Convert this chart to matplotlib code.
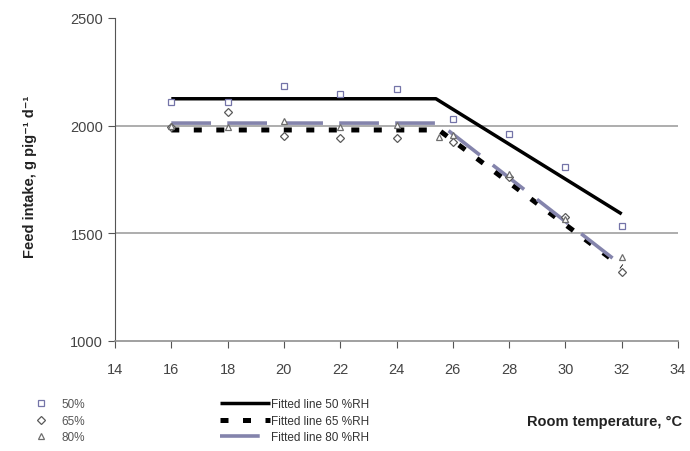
import matplotlib
matplotlib.use('Agg')
import matplotlib.pyplot as plt

plt.rcParams['font.family'] = ['Liberation Sans', 'DejaVu Sans']

# measured feed intake, g pig-1 d-1
temp = [16, 18, 20, 22, 24, 26, 28, 30, 32]
rh50 = [2110, 2110, 2185, 2145, 2170, 2030, 1960, 1808, 1535]
rh65 = [1995, 2063, 1952, 1945, 1945, 1925, 1760, 1575, 1322]
temp80 = [16, 18, 20, 22, 24, 25.5, 26, 28, 30, 32]
rh80 = [2000, 1995, 2020, 1995, 2005, 1948, 1958, 1775, 1565, 1390]

# broken-line fits: start, breakpoint, end
fit_x = [16, 25.4, 32]
fit50 = [2125, 2125, 1590]
fit_x65 = [16, 25.5, 32]
fit65 = [1980, 1980, 1345]
fit80 = [2012, 2012, 1352]

c_sq = '#7474a8'
c_di = '#5a5a5a'
c_tr = '#6e6e6e'
c_80 = '#8484ac'

fig = plt.figure(figsize=(6.9, 4.52), dpi=100)
ax = fig.add_axes([115/690, 1 - 342/452, 563/690, 323/452])

for y in [1500, 2000]:
    ax.axhline(y, color='#a0a0a0', lw=1.2, zorder=0)

l50, = ax.plot(fit_x, fit50, color='black', lw=2.5, solid_capstyle='butt', zorder=3)
l65, = ax.plot(fit_x65, fit65, color='black', lw=3.6, dashes=(1.6, 2.9),
               dash_capstyle='butt', zorder=3)
l80, = ax.plot(fit_x65, fit80, color=c_80, lw=2.6, dashes=(11, 4.5),
               dash_capstyle='butt', zorder=4)

s50, = ax.plot(temp, rh50, ls='none', marker='s', ms=4.2, mfc='white', mec=c_sq, mew=0.9, zorder=5)
s65, = ax.plot(temp, rh65, ls='none', marker='D', ms=4, mfc='white', mec=c_di, mew=0.9, zorder=5)
s80, = ax.plot(temp80, rh80, ls='none', marker='^', ms=4.4, mfc='white', mec=c_tr, mew=0.9, zorder=5)

ax.set_xlim(14, 34)
ax.set_ylim(1000, 2500)
ax.set_xticks(range(14, 35, 2))
ax.set_yticks([1000, 1500, 2000, 2500])

for side in ['top', 'right']:
    ax.spines[side].set_visible(False)
ax.spines['left'].set_color('#555555')
ax.spines['bottom'].set_color('#909090')
ax.spines['bottom'].set_linewidth(1.2)
ax.tick_params(axis='both', colors='#555555', labelcolor='#444444', labelsize=10.5,
               direction='out', length=5)
ax.tick_params(axis='x', pad=10)

ax.set_ylabel('Feed intake, g pig\u207b\u00b9 d\u207b\u00b9',
              fontsize=10.5, fontweight='bold', color='#222222')
ax.yaxis.set_label_coords(-0.138, 0.51)
ax.set_xlabel('Room temperature, °C', fontsize=10.5, fontweight='bold', color='#222222')
ax.xaxis.set_label_coords(0.87, -0.225)

leg1 = ax.legend([s50, s65, s80], ['50%', '65%', '80%'], loc='upper left',
                 bbox_to_anchor=(32/690, 1 - 399/452), bbox_transform=fig.transFigure,
                 frameon=False, fontsize=8.5, handlelength=1.5, handletextpad=1.0,
                 labelspacing=0.4, borderpad=0, borderaxespad=0, labelcolor='#555555')
ax.add_artist(leg1)
ax.legend([l50, l65, l80], ['Fitted line 50 %RH', 'Fitted line 65 %RH', 'Fitted line 80 %RH'],
          loc='upper left', bbox_to_anchor=(220/690, 1 - 399/452), bbox_transform=fig.transFigure,
          frameon=False, fontsize=8.5, handlelength=4.2, handletextpad=0.1,
          labelspacing=0.4, borderpad=0, borderaxespad=0, labelcolor='#333333')

fig.savefig('out.png', dpi=100)
